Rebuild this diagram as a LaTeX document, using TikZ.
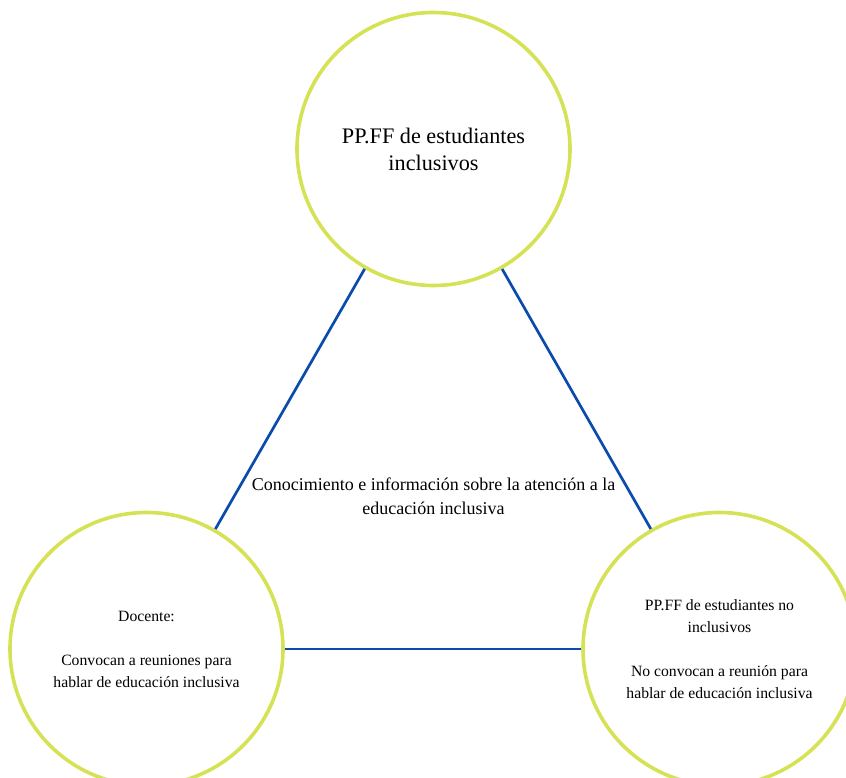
\documentclass[tikz,border=0pt]{standalone}
\usepackage{fontspec}
\setmainfont{Liberation Serif}
\definecolor{ringcol}{RGB}{214,226,86}
\definecolor{linkcol}{RGB}{10,76,172}
\begin{document}
\begin{tikzpicture}[x=1pt,y=-1pt,
  ring/.style={circle, draw=ringcol, line width=3.6pt, minimum size=273pt,
               inner sep=0pt, align=center},
  link/.style={draw=linkcol, line width=2.7pt},
  bigtext/.style={font=\fontsize{22.2}{27}\selectfont},
  bodytext/.style={font=\fontsize{15.7}{22}\selectfont},
  themetext/.style={font=\fontsize{18}{24}\selectfont}]
\useasboundingbox (0,0) rectangle (846,778);
\clip (0,0) rectangle (846,778);

% three groups
\node[ring, bigtext] (pf) at (433.5,149)
  {PP.FF de estudiantes\\inclusivos};
\node[ring, bodytext] (doc) at (146.5,649)
  {Docente:\\[22pt]Convocan a reuniones para\\hablar de educación inclusiva};
\node[ring, bodytext] (nopf) at (719.5,649)
  {PP.FF de estudiantes no\\inclusivos\\[22pt]No convocan a reunión para\\hablar de educación inclusiva};

% shared theme in the middle
\node[themetext, align=center] (theme) at (433.5,496)
  {Conocimiento e información sobre la atención a la\\educación inclusiva};

% links between the groups
\draw[link] (pf) -- (doc);
\draw[link] (pf) -- (nopf);
\draw[link] (doc) -- (nopf);
\end{tikzpicture}
\end{document}
